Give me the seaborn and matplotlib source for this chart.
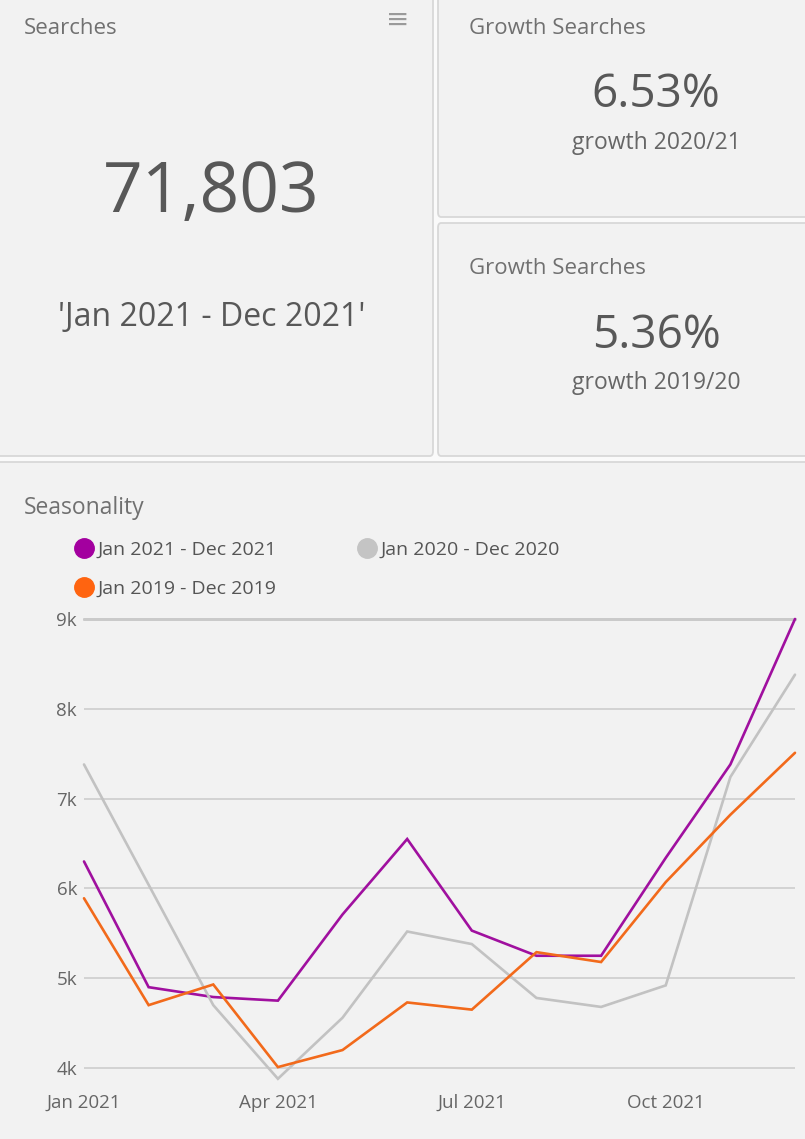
import numpy as np
import pandas as pd
import matplotlib
matplotlib.use("Agg")
import matplotlib.pyplot as plt
import seaborn as sns
from matplotlib.patches import FancyBboxPatch
from matplotlib.lines import Line2D

# ---------------- data ----------------
months = ["Jan", "Feb", "Mar", "Apr", "May", "Jun",
          "Jul", "Aug", "Sep", "Oct", "Nov", "Dec"]
series_labels = ["Jan 2021 - Dec 2021", "Jan 2020 - Dec 2020", "Jan 2019 - Dec 2019"]
searches_2021 = [6300, 4900, 4790, 4750, 5710, 6550, 5530, 5250, 5250, 6340, 7380, 9000]
searches_2020 = [7380, 6040, 4700, 3880, 4560, 5520, 5380, 4780, 4680, 4920, 7240, 8380]
searches_2019 = [5890, 4700, 4930, 4010, 4200, 4730, 4650, 5290, 5180, 6070, 6820, 7510]
xtick_positions = [0, 3, 6, 9]
xtick_labels = ["Jan 2021", "Apr 2021", "Jul 2021", "Oct 2021"]
ytick_values = [4000, 5000, 6000, 7000, 8000, 9000]

total_searches = "71,803"
total_period = "'Jan 2021 - Dec 2021'"
growth_1 = "6.53%"
growth_1_label = "growth 2020/21"
growth_2 = "5.36%"
growth_2_label = "growth 2019/20"

colors = {series_labels[0]: "#a0109f",
          series_labels[1]: "#c2c2c2",
          series_labels[2]: "#f26a1b"}
legend_colors = {series_labels[0]: "#a3009f",
                 series_labels[1]: "#c4c4c4",
                 series_labels[2]: "#ff6410"}

df = pd.DataFrame({
    "month": list(range(12)) * 3,
    "searches": searches_2021 + searches_2020 + searches_2019,
    "period": [series_labels[0]] * 12 + [series_labels[1]] * 12 + [series_labels[2]] * 12,
})

# ---------------- figure ----------------
W, H = 805, 1139
sns.set_theme(style="white")
plt.rcParams["font.family"] = ["Open Sans", "DejaVu Sans"]

fig = plt.figure(figsize=(W / 100, H / 100), dpi=100)
fig.patch.set_facecolor("#fafafa")


def fx(px):
    return px / W


def fy(py):
    return 1 - py / H


def card(x0, y0, x1, y1):
    p = FancyBboxPatch((fx(x0), fy(y1)), fx(x1) - fx(x0), fy(y0) - fy(y1),
                       boxstyle="round,pad=0,rounding_size=0.004",
                       transform=fig.transFigure, facecolor="#f2f2f2",
                       edgecolor="#d8d8d8", linewidth=1.3, zorder=0)
    fig.add_artist(p)


card(-6, -6, 433, 456)
card(438, -6, 812, 217)
card(438, 223, 812, 456)
card(-6, 462, 812, 1146)

title_c = "#707070"
num_c = "#585858"

# KPI card texts
fig.text(fx(24), fy(28), "Searches", fontsize=16, color=title_c, va="center", ha="left")
fig.text(fx(398), fy(20), "\u2261", fontsize=20, color="#9a9a9a", va="center", ha="center",
         family=["DejaVu Sans"])
fig.text(fx(211), fy(194), total_searches, fontsize=50, color=num_c, va="center", ha="center")
fig.text(fx(212), fy(318), total_period, fontsize=23, color=num_c, va="center", ha="center")

fig.text(fx(469), fy(28), "Growth Searches", fontsize=16, color=title_c, va="center", ha="left")
fig.text(fx(656), fy(95), growth_1, fontsize=33, color=num_c, va="center", ha="center")
fig.text(fx(656), fy(143), growth_1_label, fontsize=16.5, color="#666666", va="center", ha="center")

fig.text(fx(469), fy(269), "Growth Searches", fontsize=16, color=title_c, va="center", ha="left")
fig.text(fx(656), fy(336), growth_2, fontsize=33, color=num_c, va="center", ha="center")
fig.text(fx(656), fy(383), growth_2_label, fontsize=16.5, color="#666666", va="center", ha="center")

fig.text(fx(24), fy(508), "Seasonality", fontsize=16.5, color=title_c, va="center", ha="left")

# ---------------- chart ----------------
ymin, ymax = 3750, 9000
px_4k, px_9k = 1068, 619
px_per_unit = (px_4k - px_9k) / (9000 - 4000)
bottom_px = px_4k + (4000 - ymin) * px_per_unit
ax = fig.add_axes([fx(84), fy(bottom_px), fx(795) - fx(84), fy(px_9k) - fy(bottom_px)])
ax.set_facecolor("none")

sns.lineplot(data=df, x="month", y="searches", hue="period", hue_order=series_labels,
             palette=colors, linewidth=1.9, ax=ax, legend=False, sort=False)
for ln in ax.get_lines():
    ln.set_clip_on(False)
    ln.set_solid_joinstyle("miter")

ax.set_xlim(0, 11)
ax.set_ylim(ymin, ymax)
ax.set_yticks(ytick_values)
ax.set_yticklabels([f"{v // 1000}k" for v in ytick_values])
ax.set_xticks(xtick_positions)
ax.set_xticklabels(xtick_labels)
ax.set_xlabel("")
ax.set_ylabel("")
ax.yaxis.grid(True, color="#cdcdcd", linewidth=1.2)
ax.xaxis.grid(False)
ax.set_axisbelow(True)
for s in ["left", "right", "bottom"]:
    ax.spines[s].set_visible(False)
ax.spines["top"].set_color("#bdbdbd")
ax.spines["top"].set_linewidth(1.8)
ax.spines["top"].set_zorder(0.5)
ax.tick_params(axis="both", length=0, labelsize=13.5, labelcolor="#666666")
ax.tick_params(axis="y", pad=5)
ax.tick_params(axis="x", pad=2.5)

# legend
order = [series_labels[0], series_labels[2], series_labels[1]]
handles = [Line2D([], [], linestyle="none", marker="o", markersize=14,
                  markerfacecolor=legend_colors[l], markeredgecolor=legend_colors[l])
           for l in order]
leg = fig.legend(handles, order, ncol=2, loc="upper left",
                 bbox_to_anchor=(fx(71), fy(541)), frameon=False,
                 fontsize=14, handletextpad=0.0, handlelength=1.34,
                 columnspacing=4.0, labelspacing=1.08, borderpad=0, borderaxespad=0)
for t in leg.get_texts():
    t.set_color("#555555")

fig.savefig("out.png", dpi=100, facecolor=fig.get_facecolor())
